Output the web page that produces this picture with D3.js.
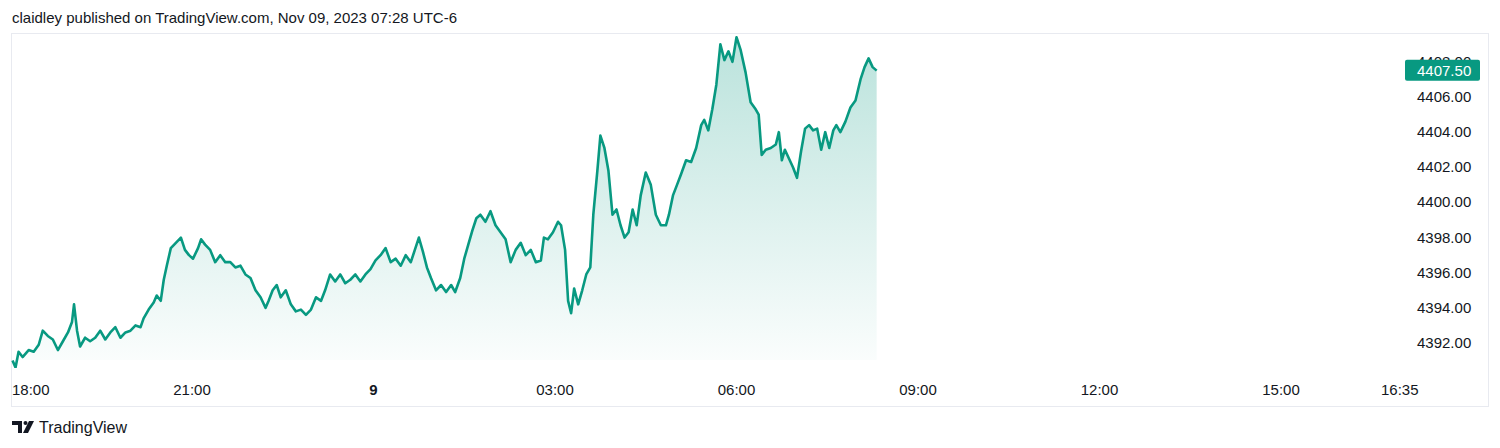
<!DOCTYPE html>
<html><head><meta charset="utf-8">
<script src="https://cdn.jsdelivr.net/npm/d3@7"></script>
<style>
body{margin:0;background:#fff;font-family:-apple-system,"Liberation Sans","Noto Sans",sans-serif;}
</style></head><body>
<svg id="chart" width="1500" height="448"></svg>
<script>
// minutes since 18:00 (Nov 8) and ES price
const minutes = [2,5,8,12,18,23,28,32,37,42,47,52,57,61,63,66,69,74,79,84,89,94,99,104,109,114,119,124,129,132,137,142,145,149,152,155,159,164,169,173,177,181,186,189,193,198,203,208,213,218,223,228,233,238,243,248,253,256,260,264,268,273,278,283,288,293,298,303,308,312,317,322,327,332,337,342,347,352,357,362,367,372,377,382,387,392,397,401,405,409,413,417,422,427,432,437,441,446,450,454,458,462,466,471,476,481,486,491,496,501,506,511,516,521,526,529,533,538,543,546,550,553,556,559,563,567,571,575,578,582,585,589,593,597,601,605,609,613,617,621,625,630,635,640,645,650,653,657,661,665,670,675,680,685,688,692,696,700,704,708,712,716,720,724,729,734,739,742,745,749,754,759,762,765,768,772,776,780,784,788,792,796,800,804,808,812,816,819,823,828,833,838,843,847,851,855,859];
const prices = [4391.0,4390.6,4391.5,4391.2,4391.6,4391.5,4391.9,4392.7,4392.4,4392.2,4391.6,4392.1,4392.6,4393.2,4394.2,4392.7,4391.8,4392.3,4392.1,4392.3,4392.7,4392.2,4392.6,4392.9,4392.3,4392.6,4392.7,4393.0,4392.9,4393.4,4393.9,4394.3,4394.7,4394.4,4395.6,4396.4,4397.4,4397.7,4398.0,4397.3,4397.0,4396.8,4397.4,4397.9,4397.6,4397.3,4396.6,4397.0,4396.6,4396.6,4396.3,4396.4,4395.9,4395.7,4395.0,4394.6,4394.0,4394.4,4395.0,4395.3,4394.6,4395.0,4394.2,4393.8,4393.9,4393.6,4393.9,4394.6,4394.4,4395.0,4395.9,4395.5,4395.9,4395.4,4395.6,4395.9,4395.5,4395.9,4396.2,4396.7,4397.0,4397.4,4396.6,4396.8,4396.4,4397.0,4396.6,4397.3,4398.0,4397.2,4396.3,4395.7,4395.0,4395.3,4394.9,4395.3,4394.9,4395.7,4396.8,4397.6,4398.4,4399.1,4399.3,4398.9,4399.5,4398.7,4398.3,4397.9,4396.6,4397.3,4397.7,4397.0,4397.3,4396.6,4396.7,4398.0,4397.9,4398.3,4398.9,4398.7,4397.3,4394.4,4393.7,4395.1,4394.2,4395.0,4395.9,4396.3,4399.3,4401.8,4403.8,4403.1,4401.8,4399.3,4399.6,4398.7,4398.0,4398.3,4399.6,4398.7,4400.4,4401.7,4401.0,4399.3,4398.7,4398.7,4399.3,4400.4,4401.0,4401.6,4402.4,4402.3,4403.1,4404.4,4404.7,4404.1,4405.3,4406.7,4409.0,4408.1,4408.6,4408.0,4409.4,4408.7,4407.4,4405.7,4405.3,4405.0,4402.7,4403.0,4403.1,4403.3,4404.0,4402.4,4403.0,4402.5,4402.0,4401.4,4402.9,4404.2,4404.4,4404.1,4404.2,4403.0,4404.0,4403.1,4404.1,4404.4,4404.0,4404.6,4405.4,4405.8,4407.0,4407.7,4408.2,4407.7,4407.5];
const priceTicks = [4392,4394,4396,4398,4400,4402,4404,4406,4408];
const timeTicks = [0,180,360,540,720,900,1080,1260,1355];
const timeLabels = ["18:00","21:00","9","03:00","06:00","09:00","12:00","15:00","16:35"];
const lastPrice = 4407.50;

const svg = d3.select("#chart");
const green = "#089981";
const plot = {left: 11, top: 33, right: 1400, bottom: 368};

const x = d3.scaleLinear().domain([0, 180]).range([10.5, 192]);
const y = d3.scaleLinear().domain([4392, 4406]).range([343, 97]);

svg.append("text").attr("x", 12).attr("y", 23).attr("font-size", 15).attr("fill", "#131722")
    .text("claidley published on TradingView.com, Nov 09, 2023 07:28 UTC-6");

svg.append("rect").attr("x", 11.5).attr("y", 33.5).attr("width", 1477).attr("height", 373)
    .attr("fill", "none").attr("stroke", "#e8eaf0");

const defs = svg.append("defs");
defs.append("clipPath").attr("id", "clip").append("rect")
    .attr("x", plot.left).attr("y", plot.top).attr("width", plot.right - plot.left).attr("height", plot.bottom - plot.top);
const grad = defs.append("linearGradient").attr("id", "fillGrad")
    .attr("gradientUnits", "userSpaceOnUse").attr("x1", 0).attr("x2", 0).attr("y1", 35).attr("y2", 360);
grad.append("stop").attr("offset", 0).attr("stop-color", green).attr("stop-opacity", 0.28);
grad.append("stop").attr("offset", 1).attr("stop-color", green).attr("stop-opacity", 0.02);

const data = minutes.map((m, i) => ({m, p: prices[i]}));
const g = svg.append("g").attr("clip-path", "url(#clip)");

g.append("path").datum(data)
    .attr("d", d3.area().x(d => x(d.m)).y0(360).y1(d => y(d.p)))
    .attr("fill", "url(#fillGrad)");
g.append("path").datum(data)
    .attr("d", d3.line().x(d => x(d.m)).y(d => y(d.p)))
    .attr("fill", "none").attr("stroke", green).attr("stroke-width", 2.6).attr("stroke-linejoin", "round");

// price axis
svg.append("g").selectAll("text").data(priceTicks).join("text")
    .attr("x", 1417).attr("y", d => y(d) + 5).attr("font-size", 15).attr("fill", "#131722")
    .text(d => d.toFixed(2));

svg.append("rect").attr("x", 1405).attr("y", y(lastPrice) - 11).attr("width", 75).attr("height", 21)
    .attr("rx", 2).attr("fill", green);
svg.append("text").attr("x", 1417).attr("y", y(lastPrice) + 5).attr("font-size", 15).attr("fill", "#fff")
    .text(lastPrice.toFixed(2));

// time axis
svg.append("g").selectAll("text").data(timeTicks).join("text")
    .attr("x", (d, i) => i === 0 ? 12 : x(d) + (i === 8 ? 23 : 0))
    .attr("y", 395).attr("font-size", 15).attr("fill", "#131722")
    .attr("text-anchor", (d, i) => i === 0 ? "start" : "middle")
    .attr("font-weight", (d, i) => timeLabels[i] === "9" ? "bold" : "normal")
    .text((d, i) => timeLabels[i]);

// footer logo
const logo = svg.append("g").attr("transform", "translate(12,421)").attr("fill", "#131722");
logo.append("path").attr("d", "M0 0H10V12H6V4H0Z");
logo.append("circle").attr("cx", 13.5).attr("cy", 2).attr("r", 2);
logo.append("path").attr("d", "M17 0H22L16 12H11Z");
svg.append("text").attr("x", 39).attr("y", 433).attr("font-size", 16).attr("fill", "#131722").text("TradingView");
</script>
</body></html>
